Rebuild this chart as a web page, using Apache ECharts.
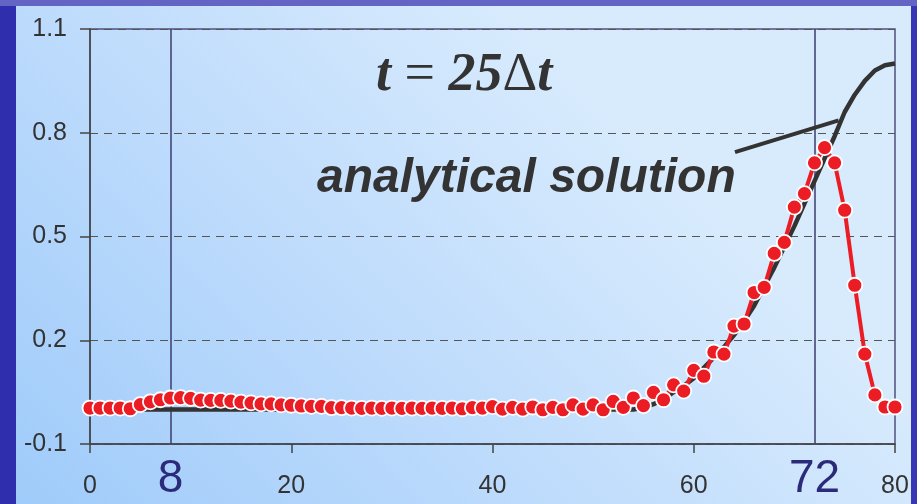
<!DOCTYPE html>
<html>
<head>
<meta charset="utf-8">
<script src="https://cdn.jsdelivr.net/npm/echarts@6/dist/echarts.min.js"></script>
<style>
  html, body { margin: 0; padding: 0; }
  #chart { width: 917px; height: 504px; }
</style>
</head>
<body>
<div id="chart"></div>
<script>
// numerical solution at each grid node (node index = x)
const numerical = [
  0.004, 0.004, 0.004, 0.004, 0.002, 0.014, 0.022, 0.028, 0.033, 0.034,
  0.032, 0.027, 0.026, 0.026, 0.024, 0.021, 0.019, 0.016, 0.016, 0.013,
  0.012, 0.010, 0.009, 0.009, 0.005, 0.005, 0.004, 0.003, 0.004, 0.003,
  0.004, 0.003, 0.004, 0.003, 0.004, 0.003, 0.004, 0.002, 0.005, 0.004,
  0.008, 0.001, 0.006, 0.001, 0.007, -0.001, 0.006, -0.001, 0.013, 0.001,
  0.013, -0.001, 0.023, 0.006, 0.033, 0.011, 0.049, 0.028, 0.071, 0.053,
  0.113, 0.096, 0.166, 0.160, 0.241, 0.247, 0.338, 0.353, 0.451, 0.483,
  0.585, 0.624, 0.713, 0.757, 0.713, 0.576, 0.359, 0.160, 0.042, 0.007,
  0.007
]
// analytical solution at the same nodes
const analytical = [
  0, 0, 0, 0, 0, 0, 0, 0, 0, 0,
  0, 0, 0, 0, 0, 0, 0, 0, 0, 0,
  0, 0, 0, 0, 0, 0, 0, 0, 0, 0,
  0, 0, 0, 0, 0, 0, 0, 0, 0, 0,
  0, 0, 0, 0, 0, 0, 0, 0, 0, 0,
  0, 0, 0, 0, 0, 0.005, 0.015, 0.03, 0.05, 0.068,
  0.09, 0.12, 0.15, 0.18, 0.215, 0.255, 0.3, 0.355, 0.41, 0.47,
  0.53, 0.595, 0.66, 0.725, 0.79, 0.86, 0.91, 0.95, 0.98, 0.995,
  1.0
]
const xTicks = [0, 20, 40, 60, 80]
const markerX = [8, 72]
const yTicks = [-0.1, 0.2, 0.5, 0.8, 1.1]
// pointer from the label to the analytical curve
const pointer = [[64.1, 0.744], [74.4, 0.836]]

const toPairs = (arr) => arr.map((v, i) => [i, v])

const chart = echarts.init(document.getElementById('chart'))

const option = {
  backgroundColor: {
    type: 'linear', x: 0, y: 0, x2: 1, y2: 0,
    colorStops: [
      { offset: 0, color: '#2f2fae' },
      { offset: 1, color: '#3636b6' }
    ]
  },
  animation: false,
  graphic: [
    {
      type: 'rect', z: -10,
      shape: { x: 0, y: 0, width: 917, height: 6 },
      style: { fill: '#6464c4' }
    },
    {
      type: 'rect', z: -10,
      shape: { x: 16, y: 6, width: 895, height: 498 },
      style: {
        fill: {
          type: 'linear', x: 0, y: 1, x2: 0.55, y2: 0,
          colorStops: [
            { offset: 0, color: '#9fcbfa' },
            { offset: 0.55, color: '#bfdcfc' },
            { offset: 1, color: '#d8ebfd' }
          ]
        }
      }
    },
    {
      type: 'text', z: 20, left: 376, top: 49,
      style: {
        text: '{i|t}{e| = }{i|25}{d|Δ}{i|t}',
        rich: {
          i: { fontFamily: 'Liberation Serif', fontStyle: 'italic', fontWeight: 'bold', fontSize: 54, fill: '#333' },
          e: { fontFamily: 'Liberation Serif', fontSize: 54, fill: '#333' },
          d: { fontFamily: 'Liberation Serif', fontSize: 54, fill: '#333' }
        }
      }
    },
    {
      type: 'text', z: 20, left: 317, top: 155,
      style: {
        text: 'analytical solution',
        fontFamily: 'Liberation Sans', fontStyle: 'italic', fontWeight: 'bold',
        fontSize: 48, fill: '#333'
      }
    }
  ],
  grid: {
    left: 90, right: 22, top: 29, bottom: 60,
    show: true, borderColor: '#50507e', borderWidth: 1.5,
    backgroundColor: 'transparent'
  },
  xAxis: [
    {
      type: 'value', min: 0, max: 80, interval: 20,
      axisLine: { show: true, onZero: false, lineStyle: { color: '#444', width: 1.5 } },
      axisTick: { show: true, length: 9, lineStyle: { color: '#444', width: 1.5 } },
      axisLabel: {
        customValues: xTicks,
        fontFamily: 'Liberation Sans', fontSize: 25, color: '#333', margin: 30
      },
      splitLine: { show: false }
    },
    {
      type: 'value', min: 0, max: 80, position: 'bottom',
      axisLine: { show: false },
      axisTick: { show: false, customValues: markerX },
      axisLabel: {
        customValues: markerX,
        fontFamily: 'Liberation Sans', fontSize: 46, color: '#2b2b7a', margin: 12
      },
      splitLine: { show: true, lineStyle: { color: '#3c3c6e', width: 1.5, type: 'solid' } }
    }
  ],
  yAxis: {
    type: 'value', min: -0.1, max: 1.1, interval: 0.3,
    axisLine: { show: true, onZero: false, lineStyle: { color: '#444', width: 1.5 } },
    axisTick: { show: true, length: 10, lineStyle: { color: '#444', width: 1.5 } },
    axisLabel: {
      fontFamily: 'Liberation Sans', fontSize: 25, color: '#333', margin: 23,
      formatter: (v) => v.toFixed(1)
    },
    splitLine: { show: true, lineStyle: { color: '#555', width: 1, type: [8, 6] } }
  },
  series: [
    {
      name: 'analytical', type: 'line', z: 2,
      data: toPairs(analytical),
      showSymbol: false, symbol: 'none',
      lineStyle: { color: '#333', width: 4.5 },
      markLine: {
        silent: true, symbol: 'none', label: { show: false },
        lineStyle: { color: '#333', width: 4, type: 'solid' },
        data: [[{ coord: pointer[0] }, { coord: pointer[1] }]]
      }
    },
    {
      name: 'numerical', type: 'line', z: 3,
      data: toPairs(numerical),
      symbol: 'circle', symbolSize: 15,
      lineStyle: { color: '#ec1c24', width: 4 },
      itemStyle: { color: '#ec1c24', borderColor: '#fff', borderWidth: 1.8 }
    }
  ]
}

chart.setOption(option)
</script>
</body>
</html>
